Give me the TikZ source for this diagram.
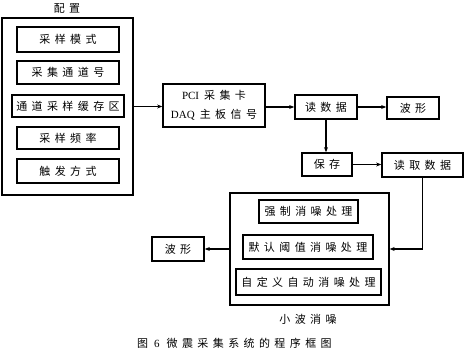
\documentclass[tikz,border=0pt]{standalone}
\usepackage{fontspec}
\setmainfont{Liberation Serif}
\newfontfamily\cjk[LetterSpace=40]{Noto Sans CJK SC}
\usetikzlibrary{arrows.meta}
\begin{document}
\begin{tikzpicture}[x=1pt,y=-1pt,
  outerbox/.style={draw,line width=1.3pt,inner sep=0pt},
  inbox/.style={draw,line width=1.7pt,inner sep=0pt,font=\fontsize{11}{13}\selectfont\cjk},
  conn/.style={line width=1.3pt,-{Stealth[length=5pt,width=4pt]}},
  lbl/.style={font=\fontsize{11}{13}\selectfont\cjk,inner sep=0pt}]
\useasboundingbox (0,0) rectangle (465,352);
% config
\node[outerbox,minimum width=131pt,minimum height=177pt] (cfg) at (67.5,106.5) {};
\node[lbl] (cfgt) at (67,9) {配置};
\node[inbox,minimum width=102pt,minimum height=25pt] (m1) at (68,39.5) {采样模式};
\node[inbox,minimum width=102pt,minimum height=23pt] (m2) at (68,72.5) {采集通道号};
\node[inbox,minimum width=112pt,minimum height=22pt] (m3) at (68,106) {通道采样缓存区};
\node[inbox,minimum width=102pt,minimum height=22pt] (m4) at (68,138) {采样频率};
\node[inbox,minimum width=102pt,minimum height=24pt] (m5) at (68,171) {触发方式};
% pci
\node[inbox,minimum width=102pt,minimum height=43pt,align=center,font=\fontsize{11}{19}\selectfont] (pci) at (214,105.5)
  {PCI\hspace{5pt}{\cjk 采集卡}\\DAQ\hspace{5pt}{\cjk 主板信号}};
\node[inbox,minimum width=62pt,minimum height=24pt] (rd) at (326,107) {读数据};
\node[inbox,minimum width=52pt,minimum height=22pt] (wf1) at (413,108) {波形};
\node[inbox,minimum width=50pt,minimum height=23pt] (sv) at (327,164.5) {保存};
\node[inbox,minimum width=81pt,minimum height=24pt] (rdq) at (422.5,165) {读取数据};
% wavelet
\node[outerbox,minimum width=159pt,minimum height=112pt] (wav) at (309.5,249) {};
\node[inbox,minimum width=99pt,minimum height=23pt] (n1) at (308.5,211.5) {强制消噪处理};
\node[inbox,minimum width=130pt,minimum height=24pt] (n2) at (308,247) {默认阈值消噪处理};
\node[inbox,minimum width=145pt,minimum height=26pt] (n3) at (308.5,282) {自定义自动消噪处理};
\node[lbl] (wavt) at (308,319) {小波消噪};
\node[inbox,minimum width=52pt,minimum height=24pt] (wf2) at (178,249) {波形};
\node[lbl,anchor=west] (cap) at (137,343) {图\hspace{6pt}{\rmfamily 6}\hspace{7pt}微震采集系统的程序框图};
% connectors
\draw[conn] (cfg.east) -- (cfg.east -| pci.west);
\draw[conn] (pci.east |- rd.west) -- (rd.west);
\draw[conn] (rd.east) -- (rd.east -| wf1.west);
\draw[conn] (rd.south) -- (rd.south |- sv.north);
\draw[conn] (sv.east) -- (sv.east -| rdq.west);
\draw[conn] (rdq.south) |- (wav.east);
\draw[conn] (wav.west) -- (wf2.east);
\end{tikzpicture}
\end{document}
